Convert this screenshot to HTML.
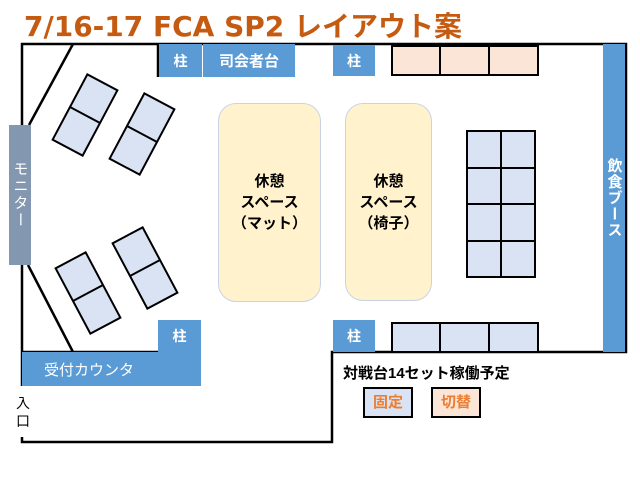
<!DOCTYPE html>
<html><head><meta charset="utf-8"><style>
body{margin:0;width:640px;height:480px;background:#fff;overflow:hidden;position:relative;font-family:"Liberation Sans","Noto Sans CJK JP",sans-serif}
.a{position:absolute;box-sizing:border-box}
.b{background:#5b9bd5;color:#fff;font-weight:bold;font-size:14px;display:flex;align-items:center;justify-content:center}
.t{background:#dae3f3;border:2px solid #000}
.g{background:#dae3f3;border:1px solid #000}
.o{background:#fbe5d6;border:2px solid #000}
.r{background:#fff2cc;border:1px solid #c8d4e6;border-radius:18px;display:flex;align-items:center;justify-content:center;text-align:center;font-weight:bold;font-size:15px;line-height:21px}
</style></head><body>
<div class="a" style="left:24px;top:5px;font-size:28px;font-weight:bold;color:#c55a11;white-space:nowrap;font-family:'DejaVu Sans','Noto Sans CJK JP',sans-serif">7/16-17 FCA SP2 レイアウト案</div>
<svg class="a" style="left:0;top:0" width="640" height="480">
<g stroke="#000" stroke-width="2.5" fill="none">
<polyline points="22,125 22,44 626,44 626,352 332,352 332,442 22,442 22,437"/>
<line x1="22" y1="265" x2="22" y2="386"/>
<line x1="73" y1="44" x2="29" y2="125"/>
<line x1="28" y1="265" x2="73" y2="352"/>
<line x1="158" y1="44" x2="158" y2="77"/>
<line x1="22" y1="352" x2="158" y2="352"/>
</g>
<g fill="#dae3f3" stroke="#000" stroke-width="2">
<g transform="translate(85,115) rotate(28)"><rect x="-17" y="-37" width="34" height="74"/><line x1="-17" y1="0" x2="17" y2="0"/></g>
<g transform="translate(142,134) rotate(28)"><rect x="-17" y="-37" width="34" height="74"/><line x1="-17" y1="0" x2="17" y2="0"/></g>
<g transform="translate(88,293) rotate(-28)"><rect x="-17" y="-37" width="34" height="74"/><line x1="-17" y1="0" x2="17" y2="0"/></g>
<g transform="translate(145,268) rotate(-28)"><rect x="-17" y="-37" width="34" height="74"/><line x1="-17" y1="0" x2="17" y2="0"/></g>
</g>
</svg>
<div class="a b" style="left:159px;top:44px;width:43px;height:33px">柱</div>
<div class="a b" style="left:203px;top:44px;width:92px;height:33px;font-size:15px">司会者台</div>
<div class="a b" style="left:333px;top:45px;width:42px;height:31px">柱</div>
<div class="a o" style="left:391px;top:45px;width:50px;height:31px"></div>
<div class="a o" style="left:439px;top:45px;width:51px;height:31px"></div>
<div class="a o" style="left:488px;top:45px;width:51px;height:31px"></div>
<div class="a b" style="left:603px;top:44px;width:22px;height:308px;writing-mode:vertical-rl;font-size:15px;letter-spacing:1px">飲食ブース</div>
<div class="a b" style="left:9px;top:125px;width:22px;height:140px;background:#8497b0;writing-mode:vertical-rl;font-weight:normal;font-size:15px;letter-spacing:2px">モニター</div>
<div class="a r" style="left:218px;top:103px;width:103px;height:199px">休憩<br>スペース<br>（マット）</div>
<div class="a r" style="left:345px;top:103px;width:87px;height:198px">休憩<br>スペース<br>（椅子）</div>
<div class="a" style="left:466px;top:130px;width:70px;height:148px;display:grid;grid-template-columns:1fr 1fr;grid-template-rows:repeat(4,1fr);border:1px solid #000">
<div class="g"></div><div class="g"></div><div class="g"></div><div class="g"></div><div class="g"></div><div class="g"></div><div class="g"></div><div class="g"></div></div>
<div class="a b" style="left:158px;top:320px;width:43px;height:32px">柱</div>
<div class="a b" style="left:22px;top:352px;width:179px;height:34px;justify-content:flex-start;padding-left:22px;font-weight:normal;font-size:15px">受付カウンタ</div>
<div class="a b" style="left:333px;top:320px;width:42px;height:32px">柱</div>
<div class="a t" style="left:391px;top:322px;width:50px;height:31px"></div>
<div class="a t" style="left:439px;top:322px;width:51px;height:31px"></div>
<div class="a t" style="left:488px;top:322px;width:51px;height:31px"></div>
<div class="a" style="left:16px;top:394px;font-size:14px;line-height:18px;width:14px">入<br>口</div>
<div class="a" style="left:343px;top:362px;font-size:15px;font-weight:bold;white-space:nowrap">対戦台14セット稼働予定</div>
<div class="a t" style="left:363px;top:387px;width:50px;height:31px;color:#ed7d31;font-weight:bold;font-size:15px;text-align:center;line-height:27px">固定</div>
<div class="a o" style="left:431px;top:387px;width:50px;height:31px;color:#ed7d31;font-weight:bold;font-size:15px;text-align:center;line-height:27px">切替</div>
</body></html>
